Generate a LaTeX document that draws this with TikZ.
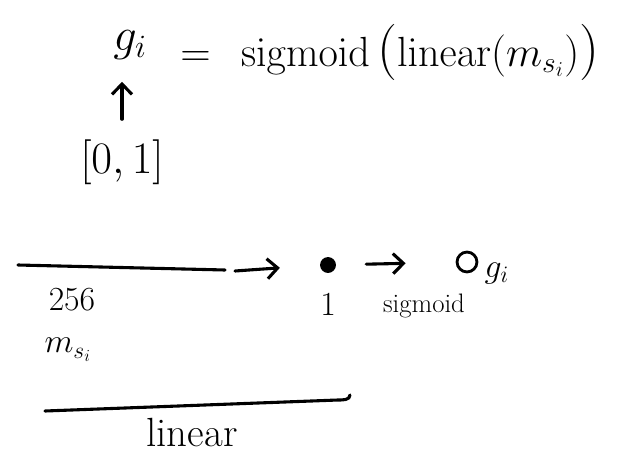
\RequirePackage{fix-cm}
\documentclass[tikz,border=0pt]{standalone}
\usepackage{amsmath}
\usetikzlibrary{arrows.meta,positioning,calc}

\begin{document}
\begin{tikzpicture}[
      x=0.025cm, y=-0.025cm,
      big/.style={font=\fontsize{30}{36}\selectfont, inner sep=0pt},
      mid/.style={font=\fontsize{24}{28}\selectfont, inner sep=0pt},
      small/.style={font=\fontsize{19}{22}\selectfont, inner sep=0pt},
      stroke/.style={line width=2.2pt, line cap=round},
      arrow/.style={stroke, -{Straight Barb[length=2.6mm, width=5mm]}}
    ]
      \useasboundingbox (0,0) rectangle (626,454);

      % top equation
      \node[big, font=\fontsize{33}{38}\selectfont] (gi) at (130,45) {$g_i$};
      \node[big, anchor=west] (eqrest) at (180,52)
        {$=\;\,\mathrm{sigmoid}\,\mathopen{\text{\fontsize{40}{44}\selectfont(}}%
          \mathrm{linear}(m_{s_i})\mathclose{\text{\fontsize{40}{44}\selectfont)}}$};
      \node[big, font=\fontsize{32}{38}\selectfont] (range) at (122,162) {$[0,1]$};
      \draw[arrow, shorten <=0.5cm, shorten >=0.55cm]
        (range.north) -- (range.north |- gi.south);

      % vector of size 256
      \coordinate (vecL) at (18,265);
      \coordinate (vecR) at (225,270);
      \draw[stroke] (vecL) -- (vecR);
      \node[mid] (dim) at (72,300) {$256$};
      \node[mid] (msi) at (68,350) {$m_{s_i}$};

      % one unit, then sigmoid
      \node[circle, fill, inner sep=4pt] (unit) at (328,265) {};
      \node[mid] (one) at (328,305) {$1$};
      \coordinate (inA) at (235,271);
      \draw[arrow, shorten >=1.0cm] (inA) -- (unit.west);
      \node[draw, circle, line width=2pt, inner sep=5pt] (out) at (467,262) {};
      \node[mid, right=0.15cm of out, yshift=-8pt] (gout) {$g_i$};
      \draw[arrow, shorten <=0.75cm, shorten >=1.25cm] (unit) -- (out);
      \node[small] (sig) at (424,306) {sigmoid};

      % linear brace
      \coordinate (linL) at (45,411);
      \coordinate (linR) at (350,395);
      \draw[stroke] (linL) -- ($(linR)+(-12,5)$) to[out=0, in=-90] (linR);
      \node[mid, font=\fontsize{29}{33}\selectfont] (lin) at (192,433) {linear};
    \end{tikzpicture}
\end{document}
